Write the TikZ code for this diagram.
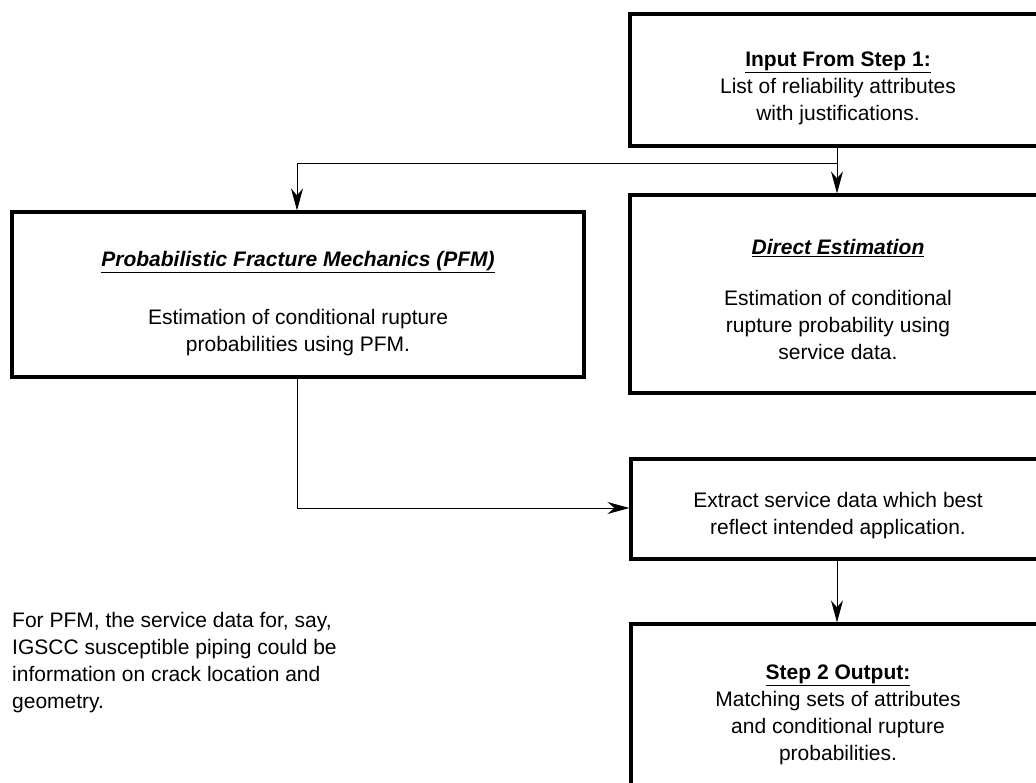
\documentclass[tikz,border=0pt]{standalone}
\usepackage{fontspec}
\setmainfont{Liberation Sans}
\usetikzlibrary{arrows.meta}
\begin{document}
\begin{tikzpicture}[x=1pt,y=-1pt,
  box/.style={draw, line width=3.2pt, rectangle, inner sep=0pt},
  txt/.style={align=center, inner sep=0pt, font=\fontsize{21}{27}\selectfont},
  conn/.style={line width=1pt, -{Stealth[length=22pt,width=12pt,inset=7pt]}},
  link/.style={line width=1pt}]
\useasboundingbox (0,0) rectangle (1036,782);
\clip (0,0) rectangle (1036,782);
\node[box, minimum width=416pt, minimum height=132pt] (in) at (838,80) {};
\node[box, minimum width=572pt, minimum height=165pt] (pfm) at (298,294.5) {};
\node[box, minimum width=416pt, minimum height=198pt] (dir) at (838,294) {};
\node[box, minimum width=414pt, minimum height=100pt] (ext) at (838,509) {};
\node[box, minimum width=414pt, minimum height=190pt] (out) at (838,719) {};

\node[txt] (intxt) at (838,88) {\underline{\textbf{Input From Step 1:}}\\List of reliability attributes\\with justifications.};
\node[txt] (pfmtitle) at (298,262) {\underline{\textbf{\textit{Probabilistic Fracture Mechanics (PFM)}}}};
\node[txt] (pfmtxt) at (298,333) {Estimation of conditional rupture\\probabilities using PFM.};
\node[txt] (dirtitle) at (838,248) {\underline{\textbf{\textit{Direct Estimation}}}};
\node[txt] (dirtxt) at (838,325) {Estimation of conditional\\rupture probability using\\service data.};
\node[txt] (exttxt) at (838,516) {Extract service data which best\\reflect intended application.};
\node[txt] (outtxt) at (838,715) {\underline{\textbf{Step 2 Output:}}\\Matching sets of attributes\\and conditional rupture\\probabilities.};
\node[txt, align=left, anchor=west] (note) at (12,663) {For PFM, the service data for, say,\\IGSCC susceptible piping could be\\information on crack location and\\geometry.};

\coordinate (br) at (837,163);
\coordinate (bl) at (297,163);
\coordinate (pd) at (297,508);
\draw[conn] (in.south -| br) -- (dir.north -| br);
\draw[link] (br) -- (bl);
\draw[conn] (bl) -- (pfm.north -| bl);
\draw[link] (pfm.south -| pd) -- (pd);
\draw[conn] (pd) -- (ext.west |- pd);
\draw[conn] (ext.south -| br) -- (out.north -| br);
\end{tikzpicture}
\end{document}
